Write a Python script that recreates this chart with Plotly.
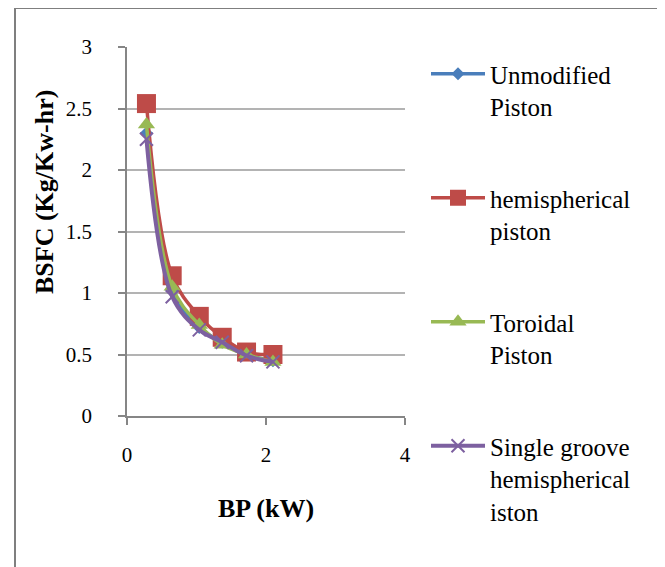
import plotly.graph_objects as go

bp = [0.28, 0.65, 1.04, 1.37, 1.72, 2.10]
unmodified = [2.30, 1.02, 0.72, 0.60, 0.50, 0.45]
hemispherical = [2.54, 1.14, 0.81, 0.64, 0.52, 0.50]
toroidal = [2.37, 1.05, 0.74, 0.58, 0.50, 0.44]
single_groove = [2.25, 0.97, 0.70, 0.60, 0.49, 0.44]

names = ["Unmodified<br>Piston", "hemispherical<br>piston", "Toroidal<br>Piston",
         "Single groove<br>hemispherical<br>iston"]
series = [unmodified, hemispherical, toroidal, single_groove]
colors = ["#4a7ebb", "#be4b48", "#98b954", "#7d60a0"]
symbols = ["diamond", "square", "triangle-up", "x-thin"]
msizes = [10, 19, 15, 13]

# page body has an 8px margin; work in screen pixels and convert
OFF = 8
W, H = 665 - OFF, 567 - OFF
L, R, T, B = 127 - OFF, 405 - OFF, 47 - OFF, 416 - OFF
pw, ph = R - L, B - T

def px(x):
    return (x - OFF - L) / pw

def py(y):
    return (B - (y - OFF)) / ph

fig = go.Figure()
for i, (nm, ys) in enumerate(zip(names, series)):
    fig.add_trace(go.Scatter(
        x=bp, y=ys, name=nm, mode="lines+markers",
        line=dict(color=colors[i], width=4 if i == 3 else 3.5, shape="spline", smoothing=1.0),
        marker=dict(symbol=symbols[i], size=msizes[i], color=colors[i],
                    line=dict(color=colors[i], width=2 if i == 3 else 0)),
        legendgroup=f"g{i}",
    ))

axis_common = dict(showline=True, linecolor="#868686", linewidth=1.5,
                   ticks="outside", ticklen=7, tickcolor="#868686", tickwidth=1.5,
                   tickfont=dict(family="Liberation Serif", size=21, color="#000"),
                   zeroline=False)

fig.update_xaxes(range=[0, 4], tickvals=[0, 2, 4], showgrid=False,
                 ticklabelstandoff=12, **axis_common)
fig.update_yaxes(range=[0, 3], tickvals=[0, 0.5, 1, 1.5, 2, 2.5, 3],
                 ticktext=["0", "0.5", "1", "1.5", "2", "2.5", "3"],
                 showgrid=True, gridcolor="#b3b3b3", gridwidth=2,
                 ticklabelstandoff=22, **axis_common)

fig.add_annotation(text="<b>BSFC (Kg/Kw-hr)</b>", xref="paper", yref="paper",
                   x=px(44), y=py(192), textangle=-90, showarrow=False,
                   xanchor="center", yanchor="middle",
                   font=dict(family="Liberation Serif", size=26, color="#000"))
fig.add_annotation(text="<b>BP (kW)</b>", xref="paper", yref="paper",
                   x=px(266), y=py(508), showarrow=False,
                   xanchor="center", yanchor="middle",
                   font=dict(family="Liberation Serif", size=26, color="#000"))

fig.add_shape(type="rect", xref="paper", yref="paper",
              x0=px(15), x1=px(662), y0=py(590), y1=py(8),
              line=dict(color="#7f7f7f", width=2), layer="below")

fig.update_layout(
    width=W, height=H,
    margin=dict(l=L, r=W - R, t=T, b=H - B),
    paper_bgcolor="white", plot_bgcolor="white",
    showlegend=True,
    legend=dict(x=px(426), y=py(51), xanchor="left", yanchor="top",
                traceorder="grouped", tracegroupgap=56, valign="top",
                font=dict(family="Liberation Serif", size=25, color="#000"),
                bgcolor="rgba(0,0,0,0)", itemwidth=54, maxheight=540),
)

fig.write_html("out.html")
